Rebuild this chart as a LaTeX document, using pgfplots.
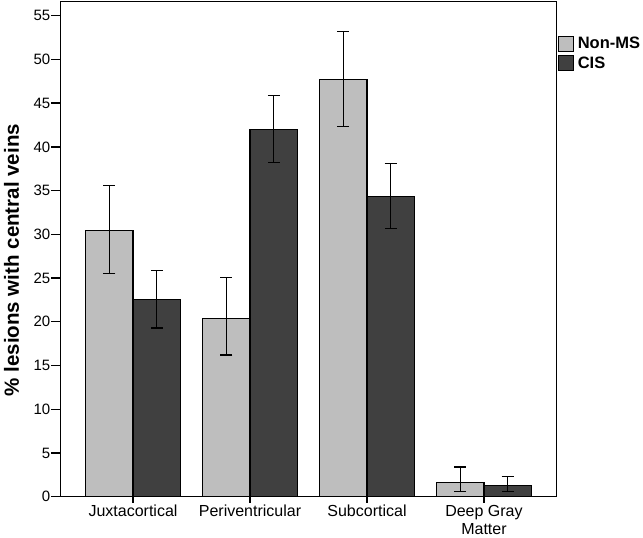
\documentclass[border=0pt]{standalone}
\usepackage{pgfplots}
\pgfplotsset{compat=1.18}
\usepackage{pgfplotstable}
\usepackage{fontspec}
\setmainfont{Liberation Sans}
\definecolor{lightbar}{RGB}{190,190,190}
\definecolor{darkbar}{RGB}{64,64,64}
\pgfplotstableread{
x y ep em
0 30.4 5.2 4.9
1 20.4 4.7 4.2
2 47.7 5.5 5.4
3 1.6 1.8 1.0
}\nonms
\pgfplotstableread{
x y ep em
0 22.5 3.4 3.2
1 42.0 3.9 3.8
2 34.3 3.8 3.6
3 1.3 1.0 0.7
}\cis
\begin{document}
\begin{tikzpicture}
\begin{axis}[
  scale only axis,
  width=496pt, height=495pt,
  xmin=-0.62, xmax=3.62,
  ymin=0, ymax=56.6,
  ybar=0pt, bar width=47.5pt,
  axis line style={line width=1.4pt},
  xtick=data,
  xticklabels={Juxtacortical,Periventricular,Subcortical,{Deep Gray\\Matter}},
  x tick label style={align=center, font=\fontsize{16}{18}\selectfont, yshift=4pt},
  ytick={0,5,...,55},
  y tick label style={font=\fontsize{15}{17}\selectfont, inner xsep=1pt},
  /pgf/number format/assume math mode=true,
  tick style={line width=1.3pt, black},
  tick align=outside,
  major tick length=9pt,
  xtick style={/pgfplots/major tick length=6pt},
  xtick pos=bottom, ytick pos=left,
  ylabel={\% lesions with central veins},
  ylabel style={at={(rel axis cs:0,0.5)}, anchor=north, xshift=-11pt, yshift=60pt,
    font=\bfseries\fontsize{20.5}{23}\selectfont},
  legend style={at={(rel axis cs:1,1)}, anchor=north west, xshift=1pt, yshift=-34pt,
    draw=none, fill=none, inner sep=0pt, row sep=3pt,
    font=\bfseries\fontsize{16.5}{18}\selectfont,
    nodes={inner sep=1pt}},
  legend cell align=left,
  legend image code/.code={\draw[#1, line width=1.1pt] (0pt,-7.5pt) rectangle (15pt,7.5pt);},
  error bars/y dir=both, error bars/y explicit,
  error bars/error bar style={line width=1.3pt, black},
  error bars/error mark options={rotate=90, black, mark size=6pt, line width=1.3pt},
]
\addplot[fill=lightbar, draw=black, line width=1.1pt] table[x=x, y=y, y error plus=ep, y error minus=em] {\nonms};
\addplot[fill=darkbar, draw=black, line width=1.1pt] table[x=x, y=y, y error plus=ep, y error minus=em] {\cis};
\legend{\hspace{3pt}Non-MS, \hspace{3pt}CIS}
\end{axis}
\pgfresetboundingbox
\path (current axis.south west) ++(-60.5pt,-41.3pt) rectangle ++(643pt,538pt);
\end{tikzpicture}
\end{document}
